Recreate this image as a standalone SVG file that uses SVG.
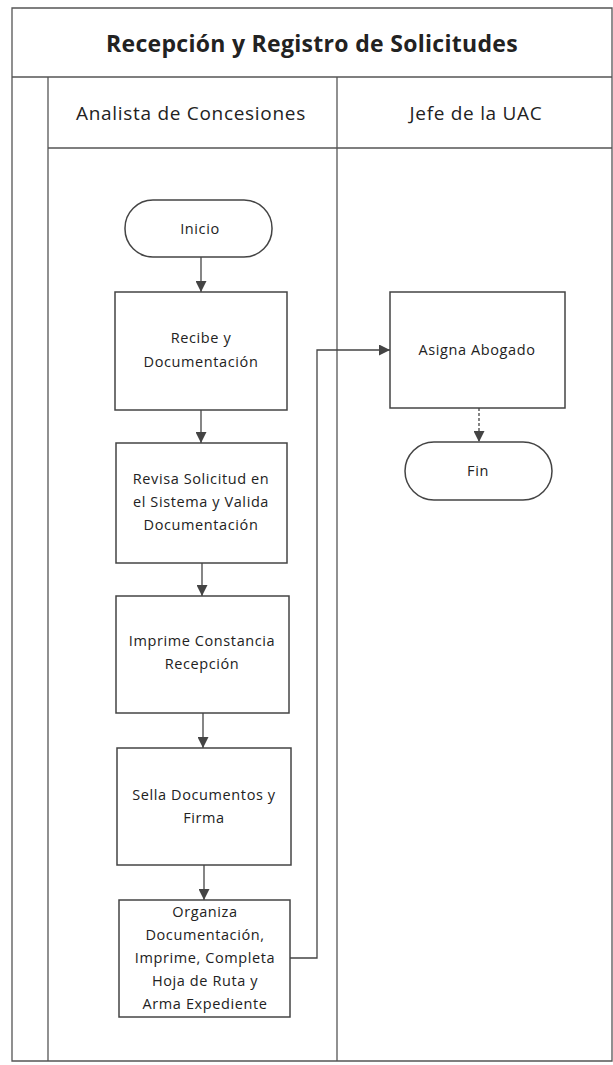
<svg xmlns="http://www.w3.org/2000/svg" width="613" height="1065" viewBox="0 0 613 1065">
<defs>
<style>
.frame{fill:none;stroke:#555;stroke-width:1.3}
.box{fill:#fff;stroke:#444;stroke-width:1.5}
.t{font-family:"Open Sans","Liberation Sans",sans-serif;font-size:14.5px;letter-spacing:0.6px;fill:#222;text-anchor:middle}
.h{font-family:"Open Sans","Liberation Sans",sans-serif;font-size:19px;letter-spacing:0.7px;fill:#222;text-anchor:middle}
.title{font-family:"Open Sans","Liberation Sans",sans-serif;font-size:23px;font-weight:bold;letter-spacing:0.3px;fill:#222;text-anchor:middle}
.conn{fill:none;stroke:#444;stroke-width:1.3}
</style>
<marker id="arr" viewBox="0 0 10 10" refX="10" refY="5" markerWidth="11" markerHeight="11" markerUnits="userSpaceOnUse" orient="auto">
<path d="M0,0 L10,5 L0,10 z" fill="#444"/>
</marker>
</defs>
<g id="pool">
<path class="frame" d="M12,8 H612 V1061 H12 Z"/>
<line class="frame" x1="12" y1="77" x2="612" y2="77"/>
<line class="frame" x1="48" y1="148" x2="612" y2="148"/>
<line class="frame" x1="48" y1="77" x2="48" y2="1061"/>
<line class="frame" x1="337" y1="77" x2="337" y2="1061"/>
<text class="title" x="312" y="52">Recepción y Registro de Solicitudes</text>
<text class="h" x="191" y="120">Analista de Concesiones</text>
<text class="h" x="476" y="120">Jefe de la UAC</text>
</g>
<g id="connectors">
<line class="conn" x1="201" y1="257" x2="201" y2="292" marker-end="url(#arr)"/>
<line class="conn" x1="201" y1="410" x2="201" y2="443" marker-end="url(#arr)"/>
<line class="conn" x1="202" y1="563" x2="202" y2="596" marker-end="url(#arr)"/>
<line class="conn" x1="203" y1="713" x2="203" y2="748" marker-end="url(#arr)"/>
<line class="conn" x1="204" y1="865" x2="204" y2="900" marker-end="url(#arr)"/>
<path class="conn" d="M290,958 H317 V350 H390" marker-end="url(#arr)"/>
<line class="conn" x1="479" y1="408" x2="479" y2="442" stroke-dasharray="3,2" marker-end="url(#arr)"/>
</g>
<g id="inicio">
<rect class="box" x="125" y="200" width="147" height="57" rx="28" ry="28"/>
<text class="t" x="200" y="234">Inicio</text>
</g>
<g id="recibe">
<rect class="box" x="115" y="292" width="172" height="118"/>
<text class="t" x="201" y="343">Recibe y</text>
<text class="t" x="201" y="367">Documentación</text>
</g>
<g id="revisa">
<rect class="box" x="116" y="443" width="171" height="120"/>
<text class="t" x="201" y="484">Revisa Solicitud en</text>
<text class="t" x="201" y="507">el Sistema y Valida</text>
<text class="t" x="201" y="530">Documentación</text>
</g>
<g id="imprime">
<rect class="box" x="116" y="596" width="173" height="117"/>
<text class="t" x="202" y="646">Imprime Constancia</text>
<text class="t" x="202" y="669">Recepción</text>
</g>
<g id="sella">
<rect class="box" x="117" y="748" width="174" height="117"/>
<text class="t" x="204" y="800">Sella Documentos y</text>
<text class="t" x="204" y="823">Firma</text>
</g>
<g id="organiza">
<rect class="box" x="119" y="900" width="171" height="117"/>
<text class="t" x="205" y="917">Organiza</text>
<text class="t" x="205" y="940">Documentación,</text>
<text class="t" x="205" y="963">Imprime, Completa</text>
<text class="t" x="205" y="986">Hoja de Ruta y</text>
<text class="t" x="205" y="1009">Arma Expediente</text>
</g>
<g id="asigna">
<rect class="box" x="390" y="292" width="175" height="116"/>
<text class="t" x="477" y="355">Asigna Abogado</text>
</g>
<g id="fin">
<rect class="box" x="405" y="442" width="147" height="58" rx="29" ry="29"/>
<text class="t" x="478" y="476">Fin</text>
</g>
</svg>
